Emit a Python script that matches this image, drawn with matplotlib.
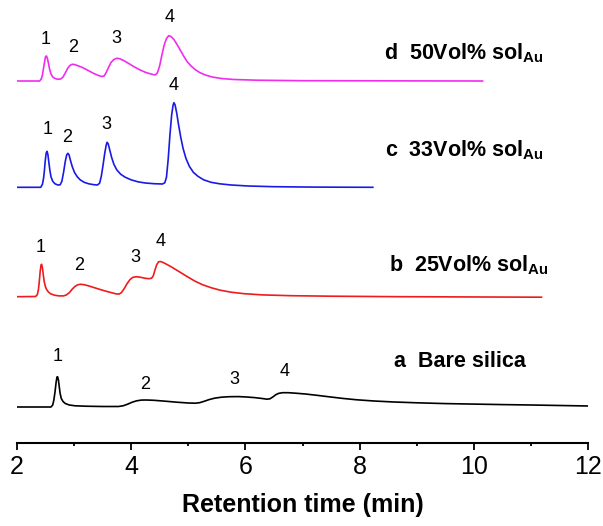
import matplotlib
matplotlib.use('Agg')
import matplotlib.pyplot as plt
import numpy as np

plt.rcParams['font.family'] = ['Liberation Sans', 'DejaVu Sans']
plt.rcParams['mathtext.fontset'] = 'custom'
plt.rcParams['mathtext.rm'] = 'Liberation Sans'
plt.rcParams['mathtext.bf'] = 'Liberation Sans:bold'

# trace a - bare silica (time in min, signal in a.u.)
t_a = [2.0, 2.60, 2.63, 2.65, 2.67, 2.69, 2.705, 2.715, 2.73, 2.745, 2.76, 2.78, 2.81, 2.85,
       2.92, 3.02, 3.2, 3.5, 3.78, 3.86, 3.94, 4.02, 4.10, 4.18, 4.26, 4.40, 4.60, 4.80,
       5.00, 5.12, 5.20, 5.28, 5.36, 5.46, 5.58, 5.72, 5.88, 6.02, 6.16, 6.28, 6.38, 6.43,
       6.48, 6.53, 6.58, 6.65, 6.75, 6.88, 7.05, 7.25, 7.45, 7.70, 7.95, 8.25, 8.60, 9.00,
       9.50, 10.0, 10.5, 11.0, 11.5, 12.0]
s_a = [0, 0, 2, 7, 15, 25, 30, 30.3, 27, 20, 13.5, 8.5, 5.5, 3.5,
       2, 1.2, 0.8, 0.5, 0.5, 1.2, 2.8, 4.8, 6.2, 6.9, 7, 6.7, 5.8, 4.8,
       4, 3.8, 4.3, 5.7, 7.3, 8.8, 9.8, 10.3, 10.4, 10, 9.4, 8.6, 7.8, 8.2,
       10, 12.2, 13.6, 14.3, 14.3, 13.8, 13, 11.7, 10.3, 8.6, 7.2, 6, 5, 4.2,
       3.4, 2.9, 2.4, 2, 1.5, 1]

# trace b - 25Vol% sol_Au
t_b = [2.0, 2.33, 2.36, 2.38, 2.395, 2.41, 2.425, 2.435, 2.45, 2.465, 2.48, 2.50, 2.52, 2.55,
       2.59, 2.66, 2.74, 2.82, 2.87, 2.92, 2.97, 3.02, 3.07, 3.12, 3.18, 3.26, 3.36, 3.46,
       3.56, 3.66, 3.74, 3.79, 3.83, 3.88, 3.93, 3.98, 4.03, 4.09, 4.16, 4.24, 4.31, 4.36,
       4.39, 4.42, 4.45, 4.48, 4.51, 4.55, 4.62, 4.70, 4.80, 4.90, 5.00, 5.12, 5.25, 5.40,
       5.56, 5.75, 5.98, 6.3, 6.8, 7.5, 8.7, 11.18]
s_b = [0, 0.2, 2, 7, 15, 25, 31.5, 32.4, 29, 22, 15.5, 10.5, 7.5, 5,
       3, 1.5, 0.8, 0.8, 1.8, 4, 7.5, 10.3, 12, 12.4, 12, 10.8, 9, 7.2,
       5.5, 4, 2.8, 2.6, 4, 8, 13, 17, 19.3, 20, 19.5, 18.5, 18, 18.5,
       21, 27, 32, 34.8, 35.2, 34.5, 32.5, 30, 26.5, 23, 19.5, 15.5, 12, 9,
       6.5, 4.5, 3, 1.8, 1, 0.5, 0, -0.5]

# trace c - 33Vol% sol_Au
t_c = [2.0, 2.42, 2.45, 2.47, 2.485, 2.50, 2.515, 2.53, 2.545, 2.56, 2.58, 2.60, 2.63, 2.67,
       2.72, 2.76, 2.79, 2.82, 2.85, 2.875, 2.895, 2.915, 2.94, 2.97, 3.01, 3.06, 3.11,
       3.18, 3.26, 3.35, 3.41, 3.45, 3.48, 3.51, 3.54, 3.565, 3.58, 3.60, 3.625, 3.66, 3.70,
       3.75, 3.82, 3.90, 4.00, 4.12, 4.25, 4.40, 4.55, 4.59, 4.62, 4.65, 4.68, 4.71, 4.735,
       4.75, 4.77, 4.80, 4.83, 4.87, 4.91, 4.96, 5.02, 5.09, 5.17, 5.27, 5.40, 5.55, 5.75,
       6.05, 6.5, 7.2, 8.23]
s_c = [0, 0, 3, 9, 17, 27, 34, 36, 33, 26, 17, 10.5, 6, 3.5,
       2.3, 2.5, 6, 15, 26, 32.5, 34, 32.5, 27, 21, 15, 10.5, 7.5,
       5, 3.5, 2.6, 2.3, 4, 11, 22, 34, 42, 45, 43.5, 38, 30, 23,
       17.5, 13, 10, 7.5, 5.5, 4.3, 3.6, 3.3, 4.5, 10, 28, 52, 72, 82,
       84.6, 82.5, 74, 63, 50, 39, 29, 21, 15, 11, 7.5, 5, 3.5, 2.3,
       1.3, 0.6, 0.2, 0]

# trace d - 50Vol% sol_Au
t_d = [2.0, 2.40, 2.43, 2.45, 2.47, 2.49, 2.505, 2.52, 2.535, 2.555, 2.575, 2.60, 2.63, 2.67,
       2.72, 2.77, 2.81, 2.85, 2.89, 2.93, 2.97, 3.01, 3.07, 3.15, 3.25, 3.35, 3.43, 3.49,
       3.53, 3.57, 3.61, 3.65, 3.70, 3.75, 3.80, 3.87, 3.96, 4.06, 4.16, 4.26, 4.36, 4.42,
       4.46, 4.50, 4.54, 4.58, 4.62, 4.66, 4.70, 4.75, 4.80, 4.86, 4.92, 4.98, 5.05, 5.12,
       5.20, 5.30, 5.42, 5.58, 5.80, 6.2, 7.0, 10.15]
s_d = [0, 0, 2, 6, 13, 20, 24.5, 25, 23, 18, 12, 7, 4, 2.5,
       1.7, 2, 4, 8, 12.5, 15.5, 16.7, 16.5, 15.3, 13.5, 10.5, 7.5, 5.5, 4.5,
       5, 9, 14, 18.5, 21.5, 22.7, 22.3, 20.5, 17.5, 14, 11, 8.5, 6.8, 6,
       8, 15, 26, 36, 42.5, 45.3, 44.5, 41.5, 37, 31, 25, 19.5, 15, 11.5,
       8.5, 6, 4, 2.5, 1.5, 0.8, 0.3, 0]

offsets = [36, 146.3, 255.7, 362]
colors = ['black', '#ee1c1c', '#1a1ae6', '#f02cf0']
names = ['a  Bare silica', r'b  25Vol% sol$_{\mathbf{Au}}$',
         r'c  33Vol% sol$_{\mathbf{Au}}$', r'd  50Vol% sol$_{\mathbf{Au}}$']

fig = plt.figure(figsize=(6.03, 5.26), dpi=100)
ax = fig.add_axes([0.0277, 0.1578, 0.948, 0.8422])

traces = [(t_a, s_a), (t_b, s_b), (t_c, s_c), (t_d, s_d)]
for (t, s), off, c in zip(traces, offsets, colors):
    ax.plot(t, np.array(s) + off, color=c, lw=1.2)

# peak numbers
peak_pos = [
    [(2.71, 86), (4.25, 58), (5.80, 63), (6.69, 71)],
    [(2.42, 195), (3.09, 177), (4.08, 185), (4.51, 201)],
    [(2.54, 313), (2.89, 305), (3.57, 318), (4.74, 357)],
    [(2.51, 403), (2.99, 395), (3.75, 404), (4.68, 425)],
]
for pos in peak_pos:
    for k, (x, y) in enumerate(pos):
        ax.text(x, y, str(k + 1), fontsize=13, ha='center', va='center')

name_pos = [(8.60, 81), (8.52, 178), (8.45, 293), (8.42, 390)]
for (x, y), n in zip(name_pos, names):
    ax.text(x, y, n, fontsize=15.5, fontweight='bold', ha='left', va='center')

ax.set_xlim(2, 12)
ax.set_ylim(0, 443)
for side in ['left', 'right', 'top']:
    ax.spines[side].set_visible(False)
ax.spines['bottom'].set_linewidth(1.5)
ax.set_yticks([])
ax.set_xticks(np.arange(2, 13, 2))
ax.set_xticks(np.arange(3, 12, 2), minor=True)
ax.tick_params(axis='x', which='major', length=5, width=1.3, labelsize=18, pad=4)
ax.tick_params(axis='x', which='minor', length=2.5, width=1.3)
ax.set_xlabel('Retention time (min)', fontsize=18, fontweight='bold', labelpad=10)

fig.savefig('out.png', dpi=100)
